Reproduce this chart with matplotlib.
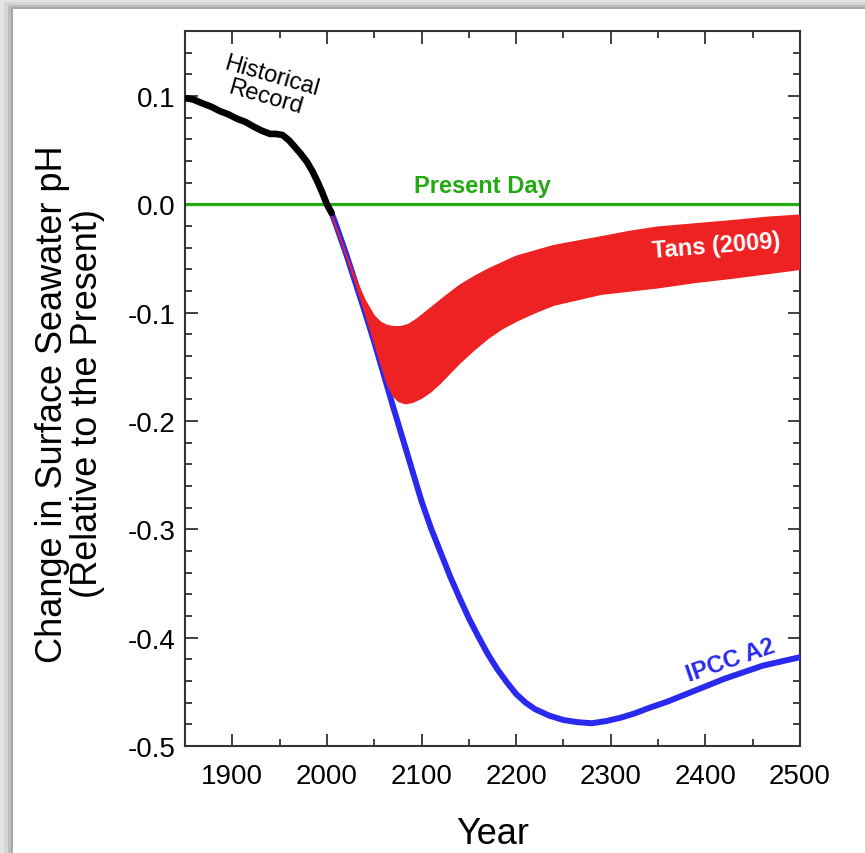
import numpy as np
import matplotlib.pyplot as plt
from matplotlib.patches import Rectangle
from matplotlib.ticker import MultipleLocator, FuncFormatter

plt.rcParams['font.family'] = ['Liberation Sans', 'DejaVu Sans']
plt.rcParams['axes.unicode_minus'] = False

# historical record (year, pH change)
hist_years = [1850, 1858, 1869, 1878, 1887, 1896, 1905, 1914, 1922, 1931, 1940,
              1946, 1953, 1960, 1965, 1972, 1979, 1985, 1990, 1995, 2000, 2005]
hist_ph = [0.098, 0.097, 0.093, 0.090, 0.086, 0.083, 0.079, 0.076, 0.072, 0.068,
           0.065, 0.065, 0.064, 0.059, 0.054, 0.047, 0.039, 0.030, 0.021, 0.011, 0.0, -0.008]

# IPCC A2 projection
ipcc_years = [2000, 2005, 2010, 2020, 2030, 2040, 2050, 2060, 2070, 2080, 2090, 2100,
              2110, 2120, 2130, 2140, 2150, 2160, 2170, 2180, 2190, 2200, 2210, 2220,
              2235, 2250, 2265, 2280, 2295, 2310, 2325, 2340, 2360, 2380, 2400, 2420,
              2440, 2460, 2480, 2500]
ipcc_ph = [0.0, -0.008, -0.020, -0.045, -0.072, -0.099, -0.127, -0.157, -0.187, -0.216,
           -0.245, -0.274, -0.299, -0.321, -0.343, -0.363, -0.382, -0.399, -0.415,
           -0.429, -0.441, -0.452, -0.460, -0.466, -0.472, -0.476, -0.478, -0.479,
           -0.477, -0.474, -0.470, -0.465, -0.459, -0.452, -0.445, -0.438, -0.432,
           -0.426, -0.422, -0.418]

# Tans (2009) band: upper and lower edges
tans_up_years = [2003, 2010, 2020, 2030, 2040, 2050, 2057, 2064, 2071, 2078, 2086, 2095,
                 2105, 2115, 2125, 2140, 2155, 2170, 2185, 2200, 2220, 2240, 2265, 2290,
                 2320, 2350, 2390, 2430, 2465, 2500]
tans_up_ph = [-0.005, -0.022, -0.045, -0.068, -0.088, -0.103, -0.109, -0.112, -0.113,
              -0.113, -0.111, -0.106, -0.099, -0.092, -0.085, -0.075, -0.067, -0.060,
              -0.054, -0.048, -0.043, -0.038, -0.034, -0.030, -0.025, -0.021, -0.018,
              -0.015, -0.012, -0.010]
tans_lo_years = [2003, 2010, 2020, 2030, 2040, 2050, 2058, 2064, 2070, 2076, 2083, 2090,
                 2100, 2110, 2120, 2130, 2140, 2155, 2170, 2185, 2200, 2220, 2240, 2265,
                 2290, 2320, 2350, 2390, 2430, 2465, 2500]
tans_lo_ph = [-0.005, -0.022, -0.046, -0.072, -0.099, -0.127, -0.150, -0.166, -0.177,
              -0.182, -0.184, -0.183, -0.179, -0.173, -0.165, -0.156, -0.147, -0.135,
              -0.124, -0.115, -0.108, -0.100, -0.093, -0.088, -0.083, -0.080, -0.077,
              -0.072, -0.068, -0.064, -0.060]

fig = plt.figure(figsize=(8.65, 8.54), dpi=100)
fig.patch.set_facecolor('#e4e4e4')
# screenshot-like shadow frame
for off, col in [(4, '#d6d6d6'), (8, '#bdbdbd'), (11, '#a8a8a8'), (13, 'white')]:
    fig.patches.append(Rectangle((off / 865, 0), 1, 1 - (off * 0.77) / 854,
                                 transform=fig.transFigure, facecolor=col,
                                 edgecolor='none', zorder=-10))

ax = fig.add_axes([185 / 865, 1 - 747 / 854, 615 / 865, 715 / 854])

ax.axhline(0, color='#22aa11', lw=2.3, zorder=2)
ax.plot(ipcc_years, ipcc_ph, color='#2a2aee', lw=4.3, solid_capstyle='round',
        solid_joinstyle='round', zorder=3)
ax.fill(tans_up_years + tans_lo_years[::-1], tans_up_ph + tans_lo_ph[::-1],
        facecolor='#ee2222', edgecolor='#ee2222', lw=1, joinstyle='round', zorder=4)
ax.plot(hist_years, hist_ph, color='black', lw=4.8, solid_capstyle='round',
        solid_joinstyle='round', zorder=5)

ax.text(1938, 0.109, 'Historical\nRecord', rotation=-16, ha='center', va='center',
        multialignment='center', fontsize=17, linespacing=0.95, rotation_mode='anchor',
        zorder=6)
ax.text(2164, 0.017, 'Present Day', color='#22aa11', fontsize=17, fontweight='bold',
        ha='center', va='center', zorder=6)
ax.text(2411, -0.038, 'Tans (2009)', color='white', fontsize=17, fontweight='bold',
        ha='center', va='center', rotation=4.5, rotation_mode='anchor', zorder=6)
ax.text(2427, -0.420, 'IPCC A2', color='#2a2aee', fontsize=17, fontweight='bold',
        ha='center', va='center', rotation=19, rotation_mode='anchor', zorder=6)

ax.set_xlim(1850, 2500)
ax.set_ylim(-0.5, 0.16)
ax.xaxis.set_major_locator(MultipleLocator(100))
ax.xaxis.set_minor_locator(MultipleLocator(50))
ax.yaxis.set_major_locator(MultipleLocator(0.1))
ax.yaxis.set_minor_locator(MultipleLocator(0.02))
ax.set_xticks([1900, 2000, 2100, 2200, 2300, 2400, 2500])
ax.yaxis.set_major_formatter(FuncFormatter(lambda v, p: f'{v:.1f}' if abs(v) > 1e-9 else '0.0'))
ax.tick_params(which='both', direction='in', top=True, right=True, color='#333333',
               labelsize=20)
ax.tick_params(axis='x', pad=12)
ax.tick_params(axis='y', pad=7)
ax.tick_params(which='major', length=9, width=1.3)
ax.tick_params(which='minor', length=5, width=1.3)
for s in ax.spines.values():
    s.set_color('#333333')
    s.set_linewidth(1.5)

ax.set_xlabel('Year', fontsize=26, labelpad=20)
ax.set_ylabel('Change in Surface Seawater pH\n(Relative to the Present)', fontsize=26,
              labelpad=16, linespacing=1.0)
ax.yaxis.label.set_y(0.48)

fig.savefig('out.png', dpi=100, facecolor=fig.get_facecolor())
